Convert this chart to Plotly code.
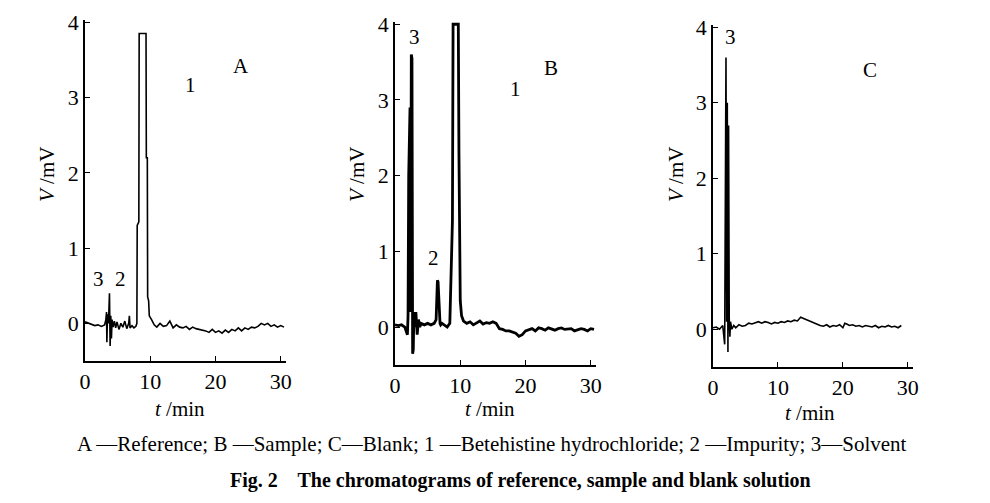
import plotly.graph_objects as go

# Panel A (Reference)
A_t = [0, 0.5, 1, 1.5, 2, 2.5, 3, 3.2, 3.3, 3.35, 3.45, 3.6, 3.75, 3.85, 3.95, 4.05, 4.15, 4.3, 4.5, 4.7, 4.9, 5.2, 5.5, 5.8, 6.1, 6.4, 6.7, 6.8, 6.9, 7.2, 7.5, 7.8, 7.95, 8.0, 8.25, 8.3, 9.35, 9.4, 9.55, 9.6, 9.75, 9.85, 10.2, 10.6, 11, 11.5, 12, 12.5, 13, 13.5, 14, 14.5, 15, 15.5, 16, 16.5, 17, 17.5, 18, 18.5, 19, 19.5, 20, 20.5, 21, 21.5, 22, 22.5, 23, 23.5, 24, 24.5, 25, 25.5, 26, 26.5, 27, 27.5, 28, 28.5, 29, 29.5, 30, 30.5]
A_v = [0.02, 0.0, -0.02, -0.03, -0.02, -0.04, -0.02, 0.05, 0.15, -0.25, 0.12, 0.0, 0.4, -0.3, 0.1, -0.2, 0.05, -0.05, 0.03, -0.06, 0.02, -0.08, 0.0, -0.05, 0.03, -0.07, 0.0, 0.1, -0.06, -0.03, -0.06, -0.04, 0.0, 1.3, 1.35, 3.85, 3.85, 2.2, 2.2, 0.35, 0.3, 0.1, 0.05, -0.02, -0.05, 0.0, -0.04, -0.03, 0.03, -0.06, -0.02, -0.05, -0.06, -0.04, -0.08, -0.05, -0.07, -0.08, -0.08, -0.1, -0.12, -0.08, -0.12, -0.1, -0.13, -0.09, -0.12, -0.08, -0.1, -0.06, -0.1, -0.06, -0.08, -0.05, -0.06, -0.04, 0.0, -0.02, 0.0, -0.04, -0.02, -0.05, -0.03, -0.05]

# Panel B (Sample)
B_t = [0, 0.5, 1, 1.5, 1.9, 2.0, 2.1, 2.3, 2.4, 2.5, 2.6, 2.7, 2.8, 2.9, 3.1, 3.2, 3.4, 3.6, 3.8, 4.0, 4.5, 5, 5.5, 6, 6.3, 6.5, 6.6, 6.9, 7.0, 7.2, 7.6, 8, 8.4, 8.7, 8.8, 8.9, 9.0, 9.7, 9.8, 9.9, 10.0, 10.2, 10.5, 11, 11.5, 12, 12.5, 13, 13.5, 14, 14.5, 15, 15.5, 16, 16.5, 17, 17.5, 18, 18.5, 19, 19.5, 20, 20.5, 21, 21.5, 22, 22.5, 23, 23.5, 24, 24.5, 25, 25.5, 26, 26.5, 27, 27.5, 28, 28.5, 29, 29.5, 30, 30.5]
B_v = [0.03, 0.02, 0.03, 0.0, -0.1, 0.15, 2.0, 2.9, 0.2, 3.6, 3.55, -0.35, -0.3, 0.2, 0.0, 0.2, -0.1, 0.1, 0.0, 0.05, 0.03, 0.05, 0.03, 0.05, 0.1, 0.62, 0.6, 0.05, 0.03, 0.05, 0.02, 0.0, 0.05, 1.4, 1.4, 4.0, 4.0, 4.0, 2.3, 0.4, 0.35, 0.15, 0.08, 0.05, 0.07, 0.03, 0.05, 0.08, 0.04, 0.06, 0.05, 0.07, 0.05, -0.02, -0.03, -0.05, -0.05, -0.07, -0.08, -0.12, -0.1, -0.05, -0.04, -0.02, -0.05, -0.01, -0.02, -0.04, -0.01, -0.02, -0.04, -0.02, -0.01, -0.03, -0.02, -0.02, -0.05, -0.03, -0.02, -0.03, -0.05, -0.02, -0.03]

# Panel C (Blank)
C_t = [0, 0.5, 1, 1.5, 1.8, 1.9, 2.0, 2.1, 2.2, 2.3, 2.4, 2.5, 2.6, 2.7, 2.9, 3.2, 3.5, 4, 4.5, 5, 5.5, 6, 6.5, 7, 7.5, 8, 8.5, 9, 9.5, 10, 10.5, 11, 11.5, 12, 12.5, 13, 13.5, 14, 14.5, 15, 15.5, 16, 16.5, 17, 17.5, 18, 18.5, 19, 19.5, 20, 20.3, 20.6, 21, 21.5, 22, 22.5, 23, 23.5, 24, 24.5, 25, 25.5, 26, 26.5, 27, 27.5, 28, 28.5, 29]
C_v = [0.02, 0.03, 0.0, 0.05, -0.2, 2.4, 3.6, 0.1, 3.0, -0.3, 2.7, 0.15, -0.1, 0.1, 0.0, 0.05, 0.02, 0.06, 0.04, 0.05, 0.08, 0.07, 0.09, 0.1, 0.08, 0.1, 0.09, 0.07, 0.09, 0.08, 0.1, 0.09, 0.11, 0.1, 0.12, 0.11, 0.16, 0.14, 0.12, 0.11, 0.08, 0.06, 0.05, 0.04, 0.06, 0.03, 0.05, 0.04, 0.06, 0.02, 0.08, 0.07, 0.05, 0.06, 0.04, 0.05, 0.03, 0.05, 0.04, 0.03, 0.05, 0.02, 0.04, 0.03, 0.05, 0.03, 0.04, 0.02, 0.05]

x_ticks = [0, 10, 20, 30]
y_ticks = [0, 1, 2, 3, 4]

# the page has an 8px body margin; figure sized to fit inside the window
W, H, OFF = 974, 487, 8
def fx(px):
    return (px - OFF) / W

def fy(py):
    return 1 - (py - OFF) / H

YMAX = 4.03
panels = [
    ("A", A_t, A_v, 1.6, (85, 286), (361, 20)),
    ("B", B_t, B_v, 2.8, (395, 596), (365, 22)),
    ("C", C_t, C_v, 1.6, (713, 913), (367, 25)),
]

fig = go.Figure()
font = dict(family="Liberation Serif", size=22, color="black")
for i, (name, t, v, w, xp, yp) in enumerate(panels):
    sx = "" if i == 0 else str(i + 1)
    fig.add_trace(go.Scatter(x=t, y=v, mode="lines", line=dict(color="black", width=w),
                             xaxis="x" + sx, yaxis="y" + sx, showlegend=False, cliponaxis=False))
    ax = dict(domain=[fx(xp[0]), fx(xp[1])], range=[0, 30.8], tickvals=x_ticks, showgrid=False,
              zeroline=False, showline=True, linecolor="black", linewidth=1.5, ticks="inside",
              ticklen=5, tickcolor="black", tickfont=font, anchor="y" + sx, automargin=False)
    ay = dict(domain=[fy(yp[0]), fy(yp[1])], range=[-0.5, YMAX], tickvals=y_ticks, showgrid=False,
              zeroline=False, showline=True, linecolor="black", linewidth=1.5, ticks="inside",
              ticklen=5, tickcolor="black", tickfont=font, anchor="x" + sx, automargin=False)
    fig.update_layout(**{"xaxis" + sx: ax, "yaxis" + sx: ay})

def ann(px, py, text, size=21, **kw):
    fig.add_annotation(x=fx(px), y=fy(py), xref="paper", yref="paper", text=text, showarrow=False,
                       xanchor="center", yanchor="middle",
                       font=dict(family="Liberation Serif", size=size, color="black"), **kw)

for px, py, txt in [(241, 66, "A"), (190, 85, "1"), (98, 279, "3"), (120, 279, "2"),
                    (551, 68, "B"), (515, 89, "1"), (414, 37, "3"), (433, 258, "2"),
                    (870, 70, "C"), (730, 37, "3")]:
    ann(px, py, txt)

for px in [47, 357, 676]:
    ann(px, 175, "<i>V</i> /mV", textangle=-90)
for px, py in [(180, 409), (490, 409), (810, 413)]:
    ann(px, py, "<i>t</i> /min")

ann(492, 444, "A —Reference; B —Sample; C—Blank; 1 —Betehistine hydrochloride; 2 —Impurity; 3—Solvent", size=21)
ann(520, 480, "<b>Fig. 2    The chromatograms of reference, sample and blank solution</b>", size=20)

fig.update_layout(width=W, height=H, margin=dict(l=0, r=0, t=0, b=0),
                  paper_bgcolor="white", plot_bgcolor="white")
fig.write_html("out.html")
